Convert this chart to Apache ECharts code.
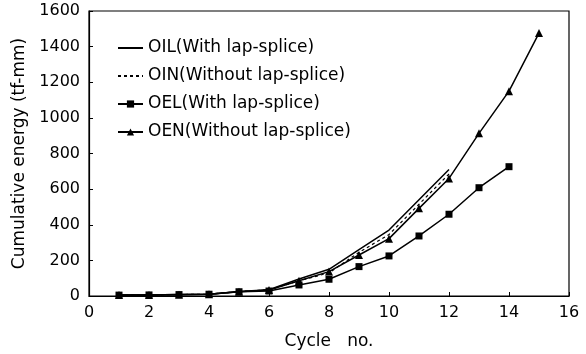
<!DOCTYPE html>
<html><head><meta charset="utf-8">
<script src="https://cdn.jsdelivr.net/npm/echarts@6/dist/echarts.min.js"></script>
<style>html,body{margin:0;padding:0;background:#fff}#c{width:586px;height:354px}</style>
</head><body><div id="c"></div>
<script>
const cycles = [1,2,3,4,5,6,7,8,9,10,11,12,13,14,15];
const OIL = [5,6,8,10,25,35,95,150,260,370,540,710];
const OIN = [5,6,8,10,25,35,85,130,245,345,515,685];
const OEL = [5,6,8,10,24,28,62,94,165,225,337,459,608,726];
const OEN = [5,6,7,10,24,34,86,137,230,322,492,660,913,1150,1476];
const names = ['OIL(With lap-splice)','OIN(Without lap-splice)','OEL(With lap-splice)','OEN(Without lap-splice)'];
function pairs(v){return v.map((y,i)=>[cycles[i],y]);}
const font = 'DejaVu Sans, sans-serif';
const chart = echarts.init(document.getElementById('c'));
chart.setOption({
  animation:false,
  backgroundColor:'#fff',
  grid:{left:89,right:17,top:11,bottom:58,show:true,borderColor:'#000',borderWidth:1.2,containLabel:false,outerBoundsMode:'none'},
  legend:{
    orient:'vertical',left:112,top:34,itemWidth:25,itemHeight:9,itemGap:10,
    textStyle:{fontFamily:font,fontSize:17,color:'#000',lineHeight:18},
    data:[
      {name:names[0],itemStyle:{opacity:0}},
      {name:names[1],itemStyle:{opacity:0}},
      {name:names[2]},
      {name:names[3]}
    ]
  },
  xAxis:{type:'value',min:0,max:16,interval:2,
    name:'Cycle   no.',nameLocation:'middle',nameGap:37,
    nameTextStyle:{fontFamily:font,fontSize:17,color:'#000'},
    axisLine:{lineStyle:{color:'#000',width:1.2}},
    axisTick:{inside:true,length:4,lineStyle:{color:'#000'}},
    axisLabel:{fontFamily:font,fontSize:16,color:'#000',margin:9},
    splitLine:{show:false}},
  yAxis:{type:'value',min:0,max:1600,interval:200,
    name:'Cumulative energy (tf-mm)',nameLocation:'middle',nameGap:60,
    nameTextStyle:{fontFamily:font,fontSize:17,color:'#000'},
    axisLine:{show:true,lineStyle:{color:'#000',width:1.2}},
    axisTick:{show:true,inside:true,length:4,lineStyle:{color:'#000'}},
    axisLabel:{fontFamily:font,fontSize:16,color:'#000',margin:9,formatter:v=>String(v)},
    splitLine:{show:false}},
  series:[
    {name:names[0],type:'line',data:pairs(OIL),symbol:'none',lineStyle:{color:'#000',width:1.5},itemStyle:{color:'#000'}},
    {name:names[1],type:'line',data:pairs(OIN),symbol:'none',lineStyle:{color:'#000',width:1.2,type:[3,3]},itemStyle:{color:'#000'}},
    {name:names[2],type:'line',data:pairs(OEL),symbol:'rect',symbolSize:7,lineStyle:{color:'#000',width:1.5},itemStyle:{color:'#000'}},
    {name:names[3],type:'line',data:pairs(OEN),symbol:'triangle',symbolSize:8,lineStyle:{color:'#000',width:1.5},itemStyle:{color:'#000'}}
  ]
});
</script></body></html>
